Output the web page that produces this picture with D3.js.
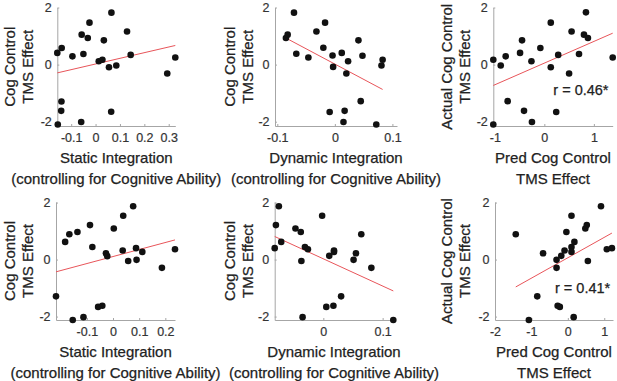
<!DOCTYPE html>
<html>
<head>
<meta charset="utf-8">
<script src="https://cdn.jsdelivr.net/npm/d3@7"></script>
<style>
  body { margin: 0; background: #fff; }
  text { font-family: "Liberation Sans", Arial, sans-serif; }
</style>
</head>
<body>
<svg width="617" height="381"></svg>
<script>
// --- data (22 participants per panel) ---
var staticTopX = [-0.157, -0.139, -0.095, -0.057, -0.050, -0.032, -0.025, 0.013, 0.028, 0.034, 0.055,
                  0.065, 0.085, 0.129, 0.144, 0.064, 0.294, 0.327, -0.140, -0.141, -0.155, -0.059];
var staticTopY = [0.41, 0.58, 0.29, 1.05, 0.37, 0.93, 1.47, 0.12, 0.17, 0.85, -0.09,
                  1.82, -0.03, 1.16, 0.34, -1.65, -0.31, 0.25, -1.29, -1.62, -2.10, -2.01];

var dynamicTopX = [-0.085, -0.082, -0.071, -0.067, -0.046, -0.032, -0.017, -0.020, -0.004, -0.003, 0.012,
                   0.023, 0.020, 0.041, 0.048, 0.045, -0.009, 0.017, 0.015, 0.072, 0.083, 0.081];
var dynamicTopY = [0.93, 1.05, 1.82, 0.38, 0.25, 1.16, 1.47, 0.59, 0.32, -0.08, 0.41,
                   0.12, -0.31, 0.85, 0.31, -1.28, -1.66, -1.62, -2.01, -2.10, 0.17, -0.03];

var predTopX = [-1.03, -0.88, -0.78, -0.74, -0.49, -0.45, -0.41, -0.26, -0.25, -0.08, 0.13,
                0.13, 0.28, 0.24, 0.50, 0.55, 0.70, 0.80, 0.84, 0.88, 1.38, -1.03];
var predTopY = [0.17, -0.03, 0.29, -1.28, 0.41, 0.85, -1.62, 0.12, -2.01, 0.58, 1.47,
                -0.09, 0.34, -1.66, -0.31, 1.16, 0.37, 1.05, 1.83, 0.93, 0.25, -2.10];

var staticBotX = [-0.218, -0.183, -0.167, -0.136, -0.154, -0.113, -0.088, -0.079, -0.057, -0.041, -0.027,
                  -0.022, 0.003, 0.037, 0.039, 0.058, 0.077, 0.088, 0.090, 0.112, 0.187, 0.237];
var staticBotY = [-1.29, 0.62, 0.89, 0.97, -2.12, -2.02, 1.21, 0.44, -1.66, -1.62, 0.22,
                  0.12, 1.09, 0.32, 1.54, -0.05, 1.87, 0.40, -0.01, 0.27, -0.29, 0.36];

var dynamicBotX = [-0.082, -0.080, -0.075, -0.071, -0.047, -0.038, -0.037, -0.035, -0.031, -0.026, -0.002,
                   0.005, 0.010, 0.017, 0.018, 0.018, 0.030, 0.051, 0.055, 0.064, 0.081, 0.118];
var dynamicBotY = [0.40, 1.21, 1.87, 0.62, 1.09, 0.97, -0.05, -2.02, 0.44, 0.36, 1.54,
                   -1.66, 0.13, -1.62, 0.27, 0.32, -1.29, -0.01, 0.22, 0.89, -0.29, -2.12];

var predBotX = [-1.43, -0.84, -1.07, -0.68, -0.31, -0.31, -0.28, -0.22, -0.18, -0.09, -0.04,
                0.10, 0.10, 0.10, 0.18, 0.16, 0.48, 0.52, 0.55, 0.91, 1.07, 1.21];
var predBotY = [0.89, -1.29, -2.12, 0.22, -0.01, -0.29, -1.62, -1.66, 0.13, 0.32, 0.97,
                1.54, 0.44, 0.27, 0.62, -2.02, 1.09, 1.21, -0.05, 1.87, 0.36, 0.40];

// fitted line: y at smallest x, y at largest x
var fitLines = [[-0.29, 0.67], [0.93, -0.87], [-0.73, 1.10], [-0.43, 0.69], [0.81, -1.10], [-0.96, 0.93]];

var xTickSets = [[-0.1, 0, 0.1, 0.2, 0.3], [-0.1, 0, 0.1], [-1, 0, 1],
                 [-0.1, 0, 0.1, 0.2], [0, 0.1], [-2, -1, 0, 1]];
var yTicks = [-2, 0, 2];
var xLims = [[-0.157, 0.327], [-0.104, 0.108], [-1.03, 1.38],
             [-0.218, 0.237], [-0.082, 0.118], [-2, 1.24]];

var xLabels = [["Static Integration", "(controlling for Cognitive Ability)"],
               ["Dynamic Integration", "(controlling for Cognitive Ability)"],
               ["Pred Cog Control", "TMS Effect"]];
var yLabels = [["Cog Control", "TMS Effect"], ["Cog Control", "TMS Effect"],
               ["Actual Cog Control", "TMS Effect"]];
var rLabels = [null, null, "r = 0.46*", null, null, "r = 0.41*"];

// --- layout ---
var rows = [
  { top: 7.5, bottom: 126, yLim: [-2.15, 2.0] },
  { top: 202, bottom: 320, yLim: [-2.12, 2.02] }
];
var cols = [
  [{ left: 57.3, right: 175.3 }, { left: 275, right: 397 }, { left: 493.3, right: 612.7 }],
  [{ left: 56, right: 175 }, { left: 274.7, right: 393.3 }, { left: 495, right: 613 }]
];
var yLabelX = [[9.5, 27.5], [229.7, 247.7], [447, 465]];

var seriesX = [staticTopX, dynamicTopX, predTopX, staticBotX, dynamicBotX, predBotX];
var seriesY = [staticTopY, dynamicTopY, predTopY, staticBotY, dynamicBotY, predBotY];

var svg = d3.select("svg");
var axisColor = "#a6a6a6";
var textColor = "#222";

function label(sel) {
  return sel.attr("fill", textColor).attr("stroke", textColor).attr("stroke-width", 0.25)
            .style("font-size", "15px");
}

for (var i = 0; i < 6; i++) {
  var r = Math.floor(i / 3), c = i % 3;
  var row = rows[r], box = cols[r][c];

  var x = d3.scaleLinear().domain(xLims[i]).range([box.left, box.right]);
  var y = d3.scaleLinear().domain(row.yLim).range([row.bottom, row.top]);
  var g = svg.append("g");

  var xAxis = g.append("g")
      .attr("transform", "translate(0," + row.bottom + ")")
      .call(d3.axisBottom(x).tickValues(xTickSets[i]).tickSize(-2).tickSizeOuter(0)
              .tickPadding(7).tickFormat(function(d) { return String(d); }));
  var yAxis = g.append("g")
      .attr("transform", "translate(" + box.left + ",0)")
      .call(d3.axisLeft(y).tickValues(yTicks).tickSize(-2).tickSizeOuter(0)
              .tickPadding(5.5).tickFormat(function(d) { return String(d); }));

  [xAxis, yAxis].forEach(function(a) {
    a.select(".domain").attr("stroke", axisColor);
    a.selectAll(".tick line").attr("stroke", axisColor);
    a.selectAll(".tick text").attr("fill", "#333").attr("stroke", "#333").attr("stroke-width", 0.2)
      .style("font-size", "12.5px").style("font-family", "'Liberation Sans', Arial, sans-serif");
  });

  // fit line
  var ext = d3.extent(seriesX[i]);
  g.append("line")
    .attr("x1", x(ext[0])).attr("y1", y(fitLines[i][0]))
    .attr("x2", x(ext[1])).attr("y2", y(fitLines[i][1]))
    .attr("stroke", "#e8555a").attr("stroke-width", 1);

  // points
  var pts = seriesX[i].map(function(v, k) { return [v, seriesY[i][k]]; });
  g.selectAll("circle").data(pts).enter().append("circle")
    .attr("cx", function(d) { return x(d[0]); })
    .attr("cy", function(d) { return y(d[1]); })
    .attr("r", 3.3)
    .attr("fill", "#111");

  // x label
  var xc = (box.left + box.right) / 2;
  g.append("text").attr("x", xc).attr("y", row.bottom + 37)
    .attr("text-anchor", "middle").call(label)
    .text(xLabels[c][0]);
  g.append("text").attr("x", xc).attr("y", row.bottom + 58)
    .attr("text-anchor", "middle").call(label)
    .text(xLabels[c][1]);

  // y label (two lines, rotated)
  var yc = (row.top + row.bottom) / 2;
  yLabels[c].forEach(function(t, k) {
    g.append("text")
      .attr("transform", "translate(" + (yLabelX[c][k] + 5.3) + "," + yc + ") rotate(-90)")
      .attr("text-anchor", "middle").call(label)
      .text(t);
  });

  if (rLabels[i]) {
    g.append("text").attr("x", box.left + 60).attr("y", (r === 0 ? y(-1.08) : y(-1.17)))
      .call(label).style("font-size", "14.5px")
      .text(rLabels[i]);
  }
}
</script>
</body>
</html>
